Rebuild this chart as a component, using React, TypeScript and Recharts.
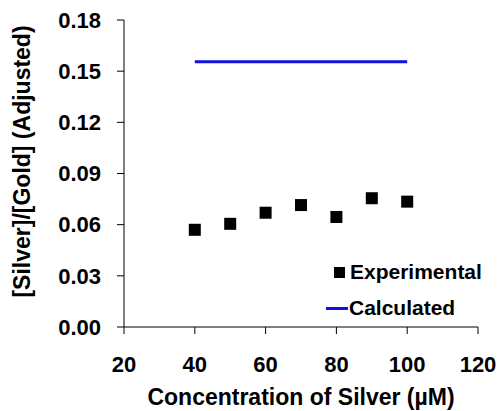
import React from "react";
import {
  ComposedChart,
  Scatter,
  Line,
  XAxis,
  YAxis,
  Legend,
  Label,
} from "recharts";

const concentration = [40, 50, 60, 70, 80, 90, 100];
const experimental = [0.057, 0.0605, 0.067, 0.0715, 0.0645, 0.0755, 0.0735];
const calculatedX = [40, 100];
const calculated = [0.1555, 0.1555];
const xTicks = [20, 40, 60, 80, 100, 120];
const yTicks = [0, 0.03, 0.06, 0.09, 0.12, 0.15, 0.18];

const expData = concentration.map((c, i) => ({ x: c, exp: experimental[i] }));
const calcData = calculatedX.map((c, i) => ({ x: c, calc: calculated[i] }));

const font = "'Liberation Sans', Arial, sans-serif";

const Square = (props: any) => {
  const { cx, cy } = props;
  return <rect x={cx - 6} y={cy - 6} width={12} height={12} fill="#000" />;
};

const LegendBox = () => (
  <div style={{ fontFamily: font, fontWeight: "bold", fontSize: 21, color: "#000", lineHeight: "36px" }}>
    <div style={{ display: "flex", alignItems: "center" }}>
      <span style={{ display: "inline-block", width: 11, height: 11, background: "#000", marginLeft: 8, marginRight: 5 }} />
      Experimental
    </div>
    <div style={{ display: "flex", alignItems: "center" }}>
      <span style={{ display: "inline-block", width: 22, height: 3, background: "#1010e0", marginRight: 1 }} />
      Calculated
    </div>
  </div>
);

const YTitle = (props: any) => {
  const { viewBox } = props;
  const cy = viewBox.y + viewBox.height / 2 - 12;
  return (
    <text
      x={22}
      y={cy}
      transform={`rotate(-90, 22, ${cy})`}
      textAnchor="middle"
      dominantBaseline="central"
      fontFamily={font}
      fontWeight="bold"
      fontSize={23}
      fill="#000"
    >
      [Silver]/[Gold] (Adjusted)
    </text>
  );
};

export default function App() {
  return (
    <div style={{ position: "absolute", left: 0, top: 0, background: "#fff" }}>
      <ComposedChart width={501} height={411} margin={{ top: 20, right: 23, left: 0, bottom: 0 }}>
        <XAxis
          dataKey="x"
          type="number"
          domain={[20, 120]}
          ticks={xTicks}
          allowDuplicatedCategory={false}
          height={84}
          stroke="#000"
          tickSize={7}
          tickMargin={22}
          tick={{ fill: "#000", fontFamily: font, fontWeight: "bold", fontSize: 22 }}
        >
          <Label
            value="Concentration of Silver (µM)"
            position="insideBottom"
            offset={6}
            style={{ fill: "#000", fontFamily: font, fontWeight: "bold", fontSize: 23 }}
          />
        </XAxis>
        <YAxis
          type="number"
          domain={[0, 0.18]}
          ticks={yTicks}
          width={124}
          stroke="#000"
          tickSize={7}
          tickMargin={16}
          tickFormatter={(v: number) => v.toFixed(2)}
          tick={{ fill: "#000", fontFamily: font, fontWeight: "bold", fontSize: 22 }}
        >
          <Label content={<YTitle />} />
        </YAxis>
        <Legend
          layout="horizontal"
          verticalAlign="middle"
          align="center"
          content={<LegendBox />}
          wrapperStyle={{ left: 326, top: 254, width: 175 }}
        />
        <Scatter
          name="Experimental"
          data={expData}
          dataKey="exp"
          fill="#000"
          shape={<Square />}
          isAnimationActive={false}
        />
        <Line
          name="Calculated"
          data={calcData}
          dataKey="calc"
          stroke="#1010e0"
          strokeWidth={3}
          dot={false}
          isAnimationActive={false}
        />
      </ComposedChart>
    </div>
  );
}
